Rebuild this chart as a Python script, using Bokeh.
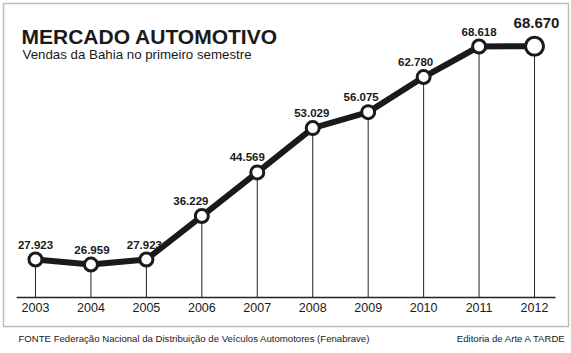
from bokeh.plotting import figure
from bokeh.models import Label, BoxAnnotation, ColumnDataSource
from bokeh.core.properties import value
from bokeh.embed import file_html
from bokeh.resources import INLINE

years = [2003, 2004, 2005, 2006, 2007, 2008, 2009, 2010, 2011, 2012]
sales = [27923, 26959, 27923, 36229, 44569, 53029, 56075, 62780, 68618, 68670]
sales_labels = ["27.923", "26.959", "27.923", "36.229", "44.569", "53.029",
                "56.075", "62.780", "68.618", "68.670"]
year_labels = [str(y) for y in years]
title_text = "MERCADO AUTOMOTIVO"
subtitle_text = "Vendas da Bahia no primeiro semestre"
source_text = "FONTE Federação Nacional da Distribuição de Veículos Automotores (Fenabrave)"
credit_text = "Editoria de Arte A TARDE"

# horizontal nudges (px) of value labels, so they clear the rising line
label_dx = [0, 1, -2, -11, -10, -1, -7, -8, 0, 2]

W, H = 571, 353
FONT = "Liberation Sans"

# value axis floor (where the drop lines end)
BASE = 20663

p = figure(width=W, height=H, output_backend="svg", toolbar_location=None,
           x_range=(2002.369, 2012.667), y_range=(9964, 77407),
           min_border=0, outline_line_color=None)
p.axis.visible = False
p.grid.visible = False
p.background_fill_color = "white"
p.border_fill_color = "white"

# outer frame
p.add_layout(BoxAnnotation(left=3, right=568, bottom=H - 326, top=H - 3,
                           left_units="screen", right_units="screen",
                           bottom_units="screen", top_units="screen",
                           fill_alpha=0, line_color="#222222", line_width=1.5))

# baseline (a little wider than the first and last year)
p.segment(x0=[years[0] - 0.34], y0=[BASE], x1=[years[-1] + 0.38], y1=[BASE],
          line_color="#222222", line_width=1.5)

base = [BASE] * len(years)
src = ColumnDataSource(dict(x=years, y=sales, base=base, lab=sales_labels,
                            ylab=year_labels))

p.segment(x0="x", y0="base", x1="x", y1="y", source=src,
          line_color="#222222", line_width=1)
p.line(x="x", y="y", source=src, line_color="#1a1a1a", line_width=6,
       line_join="round")

small = ColumnDataSource(dict(x=years[:-1], y=sales[:-1], lab=sales_labels[:-1],
                              dx=label_dx[:-1]))
last = ColumnDataSource(dict(x=years[-1:], y=sales[-1:], lab=sales_labels[-1:],
                             dx=label_dx[-1:]))

p.scatter(x="x", y="y", source=small, size=13, fill_color="white",
          line_color="#1a1a1a", line_width=3)
p.scatter(x="x", y="y", source=last, size=18, fill_color="white",
          line_color="#1a1a1a", line_width=3)

p.text(x="x", y="y", text="lab", source=small, y_offset=-11, x_offset="dx",
       text_align="center", text_baseline="bottom",
       text_font=value(FONT), text_font_style="bold",
       text_font_size="11.5px", text_color="#1a1a1a")
p.text(x="x", y="y", text="lab", source=last, y_offset=-18, x_offset="dx",
       text_align="center", text_baseline="bottom",
       text_font=value(FONT), text_font_style="bold",
       text_font_size="15px", text_color="#1a1a1a")

p.text(x="x", y="base", text="ylab", source=src, y_offset=10,
       text_align="center", text_baseline="middle",
       text_font=value(FONT), text_font_size="12.5px", text_color="#1a1a1a")

p.add_layout(Label(x=21, y=H - 47, x_units="screen", y_units="screen",
                   text=title_text, text_font=FONT, text_font_style="bold",
                   text_font_size="21px", text_color="#1a1a1a"))
p.add_layout(Label(x=22, y=H - 61, x_units="screen", y_units="screen",
                   text=subtitle_text, text_font=FONT,
                   text_font_size="13.3px", text_color="#1a1a1a"))
p.add_layout(Label(x=18, y=H - 343, x_units="screen", y_units="screen",
                   text=source_text, text_font=FONT,
                   text_font_size="9.6px", text_color="#1a1a1a"))
p.add_layout(Label(x=566, y=H - 343, x_units="screen", y_units="screen",
                   text=credit_text, text_font=FONT, text_align="right",
                   text_font_size="9.6px", text_color="#1a1a1a"))

open("out.html", "w").write(file_html(p, INLINE))
